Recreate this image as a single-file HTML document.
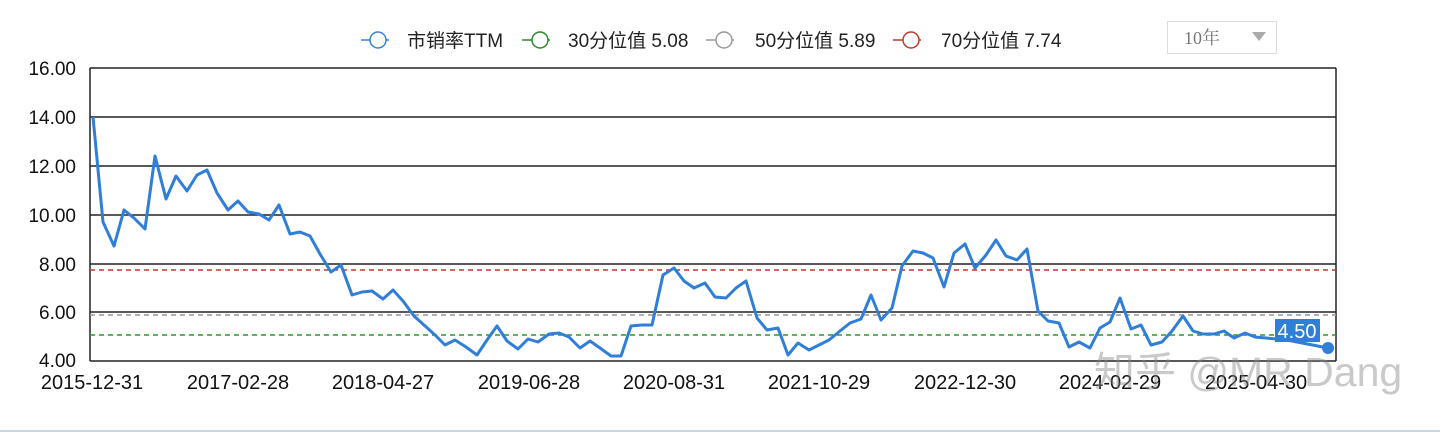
<!DOCTYPE html><html><head><meta charset="utf-8"><style>
body{margin:0;width:1440px;height:433px;background:#fff;overflow:hidden;font-family:"Liberation Sans","Noto Sans CJK SC",sans-serif}
</style></head><body>
<svg width="1440" height="433" xmlns="http://www.w3.org/2000/svg" style="position:absolute;left:0;top:0">
<g font-family="Liberation Sans, Noto Sans CJK SC, sans-serif" font-size="19" fill="#222">
<line x1="361" y1="40" x2="389" y2="40" stroke="#3a7fd5" stroke-width="1.5"/><circle cx="378" cy="40" r="8" fill="#fff" stroke="#3a7fd5" stroke-width="1.5"/><text x="407" y="47">市销率TTM</text>
<line x1="522" y1="40" x2="550" y2="40" stroke="#2a8a2a" stroke-width="1.5"/><circle cx="540" cy="40" r="8" fill="#fff" stroke="#2a8a2a" stroke-width="1.5"/><text x="568" y="47">30分位值 5.08</text>
<line x1="706" y1="40" x2="734" y2="40" stroke="#999" stroke-width="1.5"/><circle cx="724" cy="40" r="8" fill="#fff" stroke="#999" stroke-width="1.5"/><text x="755" y="47">50分位值 5.89</text>
<line x1="893" y1="40" x2="921" y2="40" stroke="#c0392b" stroke-width="1.5"/><circle cx="911" cy="40" r="8" fill="#fff" stroke="#c0392b" stroke-width="1.5"/><text x="941" y="47">70分位值 7.74</text>
</g>
<rect x="1167.5" y="21.5" width="109" height="32" fill="#fff" stroke="#ddd"/>
<text x="1184" y="44" font-family="Liberation Serif, Noto Serif CJK SC, serif" font-size="18" fill="#777">10年</text>
<polygon points="1252,32 1266,32 1259,41" fill="#aaa"/>
<g stroke="#222" stroke-width="1.5">
<line x1="90" y1="68" x2="1336" y2="68"/><line x1="90" y1="117" x2="1336" y2="117"/><line x1="90" y1="166" x2="1336" y2="166"/><line x1="90" y1="215" x2="1336" y2="215"/><line x1="90" y1="264" x2="1336" y2="264"/><line x1="90" y1="312" x2="1336" y2="312"/><line x1="90" y1="361" x2="1336" y2="361"/>
<line x1="90" y1="68" x2="90" y2="361"/><line x1="1336" y1="68" x2="1336" y2="361"/>
</g>
<g stroke-width="1.5" stroke-dasharray="5,4">
<line x1="90" y1="270" x2="1336" y2="270" stroke="#c0392b"/>
<line x1="90" y1="315" x2="1336" y2="315" stroke="#999"/>
<line x1="90" y1="335" x2="1336" y2="335" stroke="#2a9a2a"/>
</g>
<g font-size="19" fill="#111" text-anchor="end">
<text x="76" y="75">16.00</text><text x="76" y="124">14.00</text><text x="76" y="173">12.00</text><text x="76" y="222">10.00</text><text x="76" y="271">8.00</text><text x="76" y="319">6.00</text><text x="76" y="367">4.00</text>
</g>
<g font-size="20" fill="#111" text-anchor="middle">
<text x="92" y="389">2015-12-31</text><text x="238" y="389">2017-02-28</text><text x="383" y="389">2018-04-27</text><text x="529" y="389">2019-06-28</text><text x="674" y="389">2020-08-31</text><text x="819" y="389">2021-10-29</text><text x="965" y="389">2022-12-30</text><text x="1110" y="389">2024-02-29</text><text x="1256" y="389">2025-04-30</text>
</g>
<polyline fill="none" stroke="#2f7ed8" stroke-width="3" stroke-linejoin="round" points="93,117 103,222 114,246 124,210 134,218 145,229 155,156 166,199 176,176 187,191 197,175 207,170 217,193 228,210 238,201 248,212 259,214 269,220 279,205 290,234 300,232 310,236 320,254 331,272 341,265 352,295 362,292 372,291 383,299 393,290 403,301 414,316 424,325 435,335 445,345 455,340 466,347 477,355 487,340 497,326 507,341 518,349 528,339 538,342 549,334 559,333 569,337 580,348 590,341 600,348 611,356 621,356 631,326 642,325 652,325 663,275 674,268 684,281 694,288 705,283 715,297 726,298 736,288 746,281 757,318 767,330 778,328 788,355 798,343 809,350 819,345 829,340 840,331 850,323 861,319 871,295 881,320 892,308 902,266 913,251 923,253 933,258 944,287 954,253 965,244 975,268 986,255 996,240 1006,256 1017,260 1027,249 1038,311 1048,321 1059,323 1069,347 1079,342 1090,348 1100,328 1110,322 1120,298 1131,329 1141,325 1151,345 1162,342 1172,331 1183,316 1193,331 1203,334 1214,334 1224,331 1234,338 1245,333 1255,337 1266,338 1276,339 1287,340 1297,342 1328,348"/>
<circle cx="1328" cy="348" r="6" fill="#2f7ed8"/>
<rect x="1275" y="319" width="45" height="23" fill="#2f7ed8"/>
<text x="1297" y="338" font-size="20" fill="#fff" text-anchor="middle">4.50</text>
<text x="1094" y="386" font-size="41" fill="#888" fill-opacity="0.45" font-family="Liberation Sans, Noto Sans CJK SC, sans-serif">知乎 @MR Dang</text>
<line x1="0" y1="431" x2="1440" y2="431" stroke="#c5d5e5" stroke-width="2"/>
</svg>
</body></html>
